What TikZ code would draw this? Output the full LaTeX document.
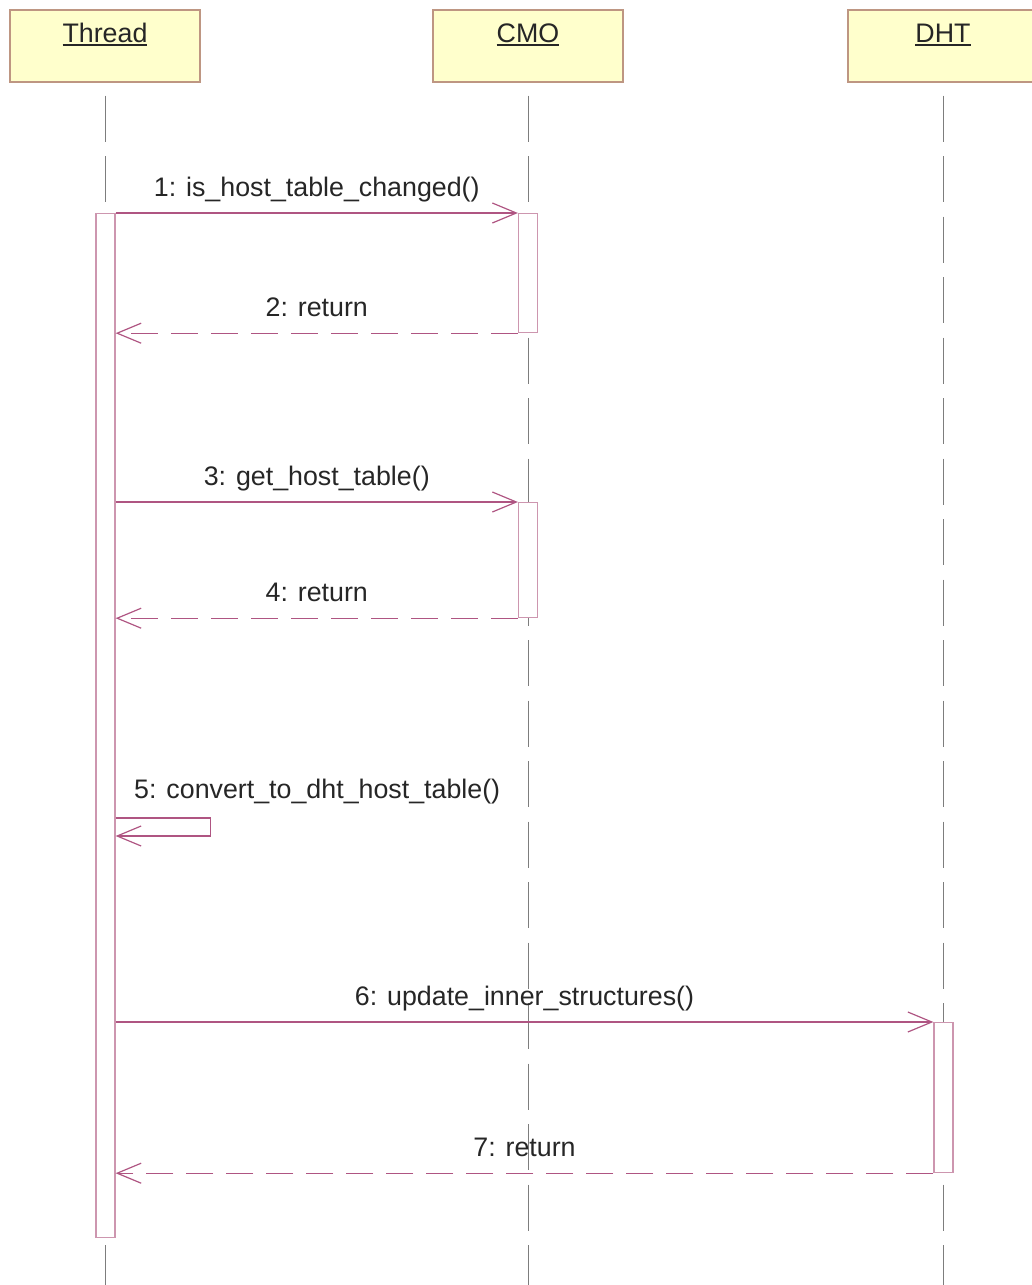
\documentclass[tikz,border=0pt]{standalone}
\usepackage{fontspec}
\setmainfont{Liberation Sans}
\usetikzlibrary{arrows.meta, positioning}

\definecolor{headfill}{RGB}{255,255,204}
\definecolor{headline}{RGB}{190,150,130}
\definecolor{msgline}{RGB}{175,85,130}
\definecolor{actline}{RGB}{205,150,175}
\definecolor{lifegray}{RGB}{125,125,125}

% underlined object name
\newcommand{\objname}[1]{\setbox0\hbox{#1}\rlap{\rule[-4pt]{\wd0}{1.8pt}}\box0}

\begin{document}
\begin{tikzpicture}[x=1pt, y=-1pt,
    head/.style={rectangle, draw=headline, line width=1.2pt, fill=headfill, minimum width=190pt, inner sep=0pt,
        text height=32pt, text depth=40pt, text=black!85, font=\fontsize{26.8pt}{32pt}\selectfont},
    lifeline/.style={draw=lifegray, line width=1pt, dash pattern=on 46pt off 14.5pt},
    actbar/.style={rectangle, draw=actline, line width=1.2pt, fill=white, minimum width=19pt, inner sep=0pt, anchor=north},
    call/.style={draw=msgline, line width=1.2pt, -{Straight Barb[length=24pt, width=20pt]}},
    ret/.style={call, dash pattern=on 27pt off 13pt},
    msg/.style={anchor=base, yshift=17pt, inner sep=0pt, text=black!85, font=\fontsize{26.8pt}{32pt}\selectfont}]
    \useasboundingbox (0,0) rectangle (1031,1285);
    \coordinate (bottom) at (0,1285);

    % Objects
    \node (Thread) [head] at (105,46) {\objname{Thread}};
    \node (CMO) [head] at (528,46) {\objname{CMO}};
    \node (DHT) [head] at (943,46) {\objname{DHT}};

    % Lifelines
    \draw[lifeline] ([yshift=-13pt]Thread.south) -- (Thread.south |- bottom);
    \draw[lifeline] ([yshift=-13pt]CMO.south) -- (CMO.south |- bottom);
    \draw[lifeline] ([yshift=-13pt]DHT.south) -- (DHT.south |- bottom);

    % Activations
    \node (tAct) [actbar, minimum height=1024pt] at (105.5,213) {};
    \node (cAct1) [actbar, minimum height=119pt] at (528,213) {};
    \node (cAct2) [actbar, minimum height=115pt] at (528,502) {};
    \node (dAct) [actbar, minimum height=150pt] at (943.5,1022) {};

    % Messages
    \draw[call] (tAct.east |- cAct1.north west) -- node[msg] {1: is\_host\_table\_changed()} (cAct1.north west);
    \draw[ret] (cAct1.south west) -- node[msg] {2: return} (tAct.east |- cAct1.south west);
    \draw[call] (tAct.east |- cAct2.north west) -- node[msg] {3: get\_host\_table()} (cAct2.north west);
    \draw[ret] (cAct2.south west) -- node[msg] {4: return} (tAct.east |- cAct2.south west);

    \coordinate (self) at (tAct.east |- 0,818);
    \draw[call] (self) -- node[msg, pos=0, anchor=base west, xshift=18pt, yshift=3pt] {5: convert\_to\_dht\_host\_table()}
        ++(95,0) -- ++(0,18) -- ++(-95,0);

    \draw[call] (tAct.east |- dAct.north west) -- node[msg] {6: update\_inner\_structures()} (dAct.north west);
    \draw[ret] (dAct.south west) -- node[msg] {7: return} (tAct.east |- dAct.south west);
\end{tikzpicture}
\end{document}
